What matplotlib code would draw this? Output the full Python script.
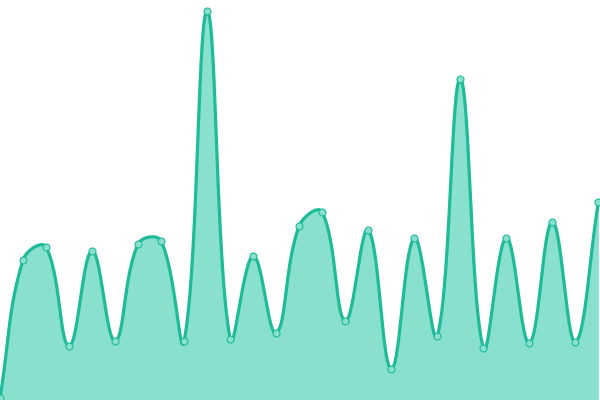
import numpy as np
import matplotlib
matplotlib.use("Agg")
import matplotlib.pyplot as plt

# значення точок (висота в пікселях від низу)
x_values = list(range(27))
y_values = [2, 140, 153, 54, 149, 59, 156, 159, 59, 389, 61, 144, 67,
            174, 188, 79, 170, 31, 162, 64, 321, 52, 162, 57, 178, 58, 198]

line_color = "#1dbb97"
fill_color = "#8ae0cf"


# Згладжування як у Chart.js (tension 0.4), рахуємо в пікселях
def spline_curve(xs, ys, tension=0.4, x_scale=23.0, steps=30):
    px = np.asarray(xs, dtype=float) * x_scale
    py = np.asarray(ys, dtype=float)
    n = len(px)
    prev_cp = np.zeros((n, 2))
    next_cp = np.zeros((n, 2))
    for i in range(n):
        i0 = max(i - 1, 0)
        i2 = min(i + 1, n - 1)
        p0 = np.array([px[i0], py[i0]])
        p1 = np.array([px[i], py[i]])
        p2 = np.array([px[i2], py[i2]])
        d01 = np.hypot(*(p1 - p0))
        d12 = np.hypot(*(p2 - p1))
        tot = d01 + d12
        s01 = d01 / tot if tot else 0
        s12 = d12 / tot if tot else 0
        prev_cp[i] = p1 - tension * s01 * (p2 - p0)
        next_cp[i] = p1 + tension * s12 * (p2 - p0)
    out_x = []
    out_y = []
    t = np.linspace(0, 1, steps)[:, None]
    for i in range(n - 1):
        a = np.array([px[i], py[i]])
        b = next_cp[i]
        c = prev_cp[i + 1]
        d = np.array([px[i + 1], py[i + 1]])
        pts = ((1 - t) ** 3 * a + 3 * (1 - t) ** 2 * t * b
               + 3 * (1 - t) * t ** 2 * c + t ** 3 * d)
        out_x.extend(pts[:, 0] / x_scale)
        out_y.extend(pts[:, 1])
    return np.array(out_x), np.array(out_y)


def main():
    cx, cy = spline_curve(x_values, y_values)

    fig = plt.figure(figsize=(6, 4), dpi=100)
    ax = fig.add_axes([0, 0, 1, 1])
    ax.fill_between(cx, cy, 0, color=fill_color, lw=0)
    ax.plot(cx, cy, color=line_color, lw=2.3, solid_capstyle="round")
    ax.plot(x_values, y_values, "o", ms=5, mfc=fill_color, mec=line_color,
            mew=0.8)
    ax.set_xlim(0, 26.07)
    ax.set_ylim(0, 400)
    ax.axis("off")
    fig.savefig("out.png", dpi=100)


if __name__ == "__main__":
    main()
